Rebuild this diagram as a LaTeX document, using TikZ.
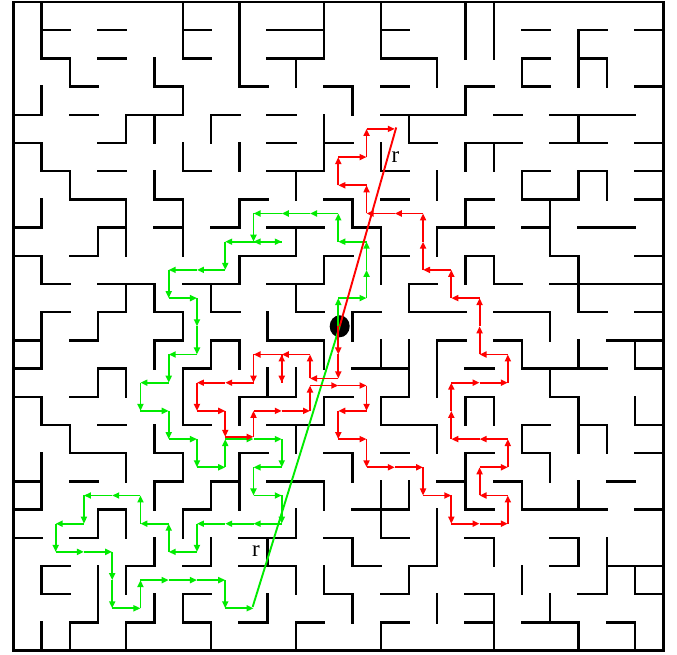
\documentclass[tikz,border=0pt]{standalone}
\usepackage{fontspec}
\setmainfont{Liberation Serif}
\usetikzlibrary{arrows.meta}
\definecolor{pathred}{RGB}{255,0,0}
\definecolor{pathgreen}{RGB}{0,235,0}
\begin{document}
\begin{tikzpicture}[x=28.26pt,y=-28.2pt,
  wall/.style={line width=2.3pt,line cap=rect,black},
  border/.style={line width=2.6pt,black},
  redstep/.style={pathred,line width=1.9pt,-{Triangle[length=7pt,width=6pt]}},
  greenstep/.style={pathgreen,line width=1.9pt,-{Triangle[length=7pt,width=6pt]}},
  redline/.style={pathred,line width=1.9pt},
  greenline/.style={pathgreen,line width=1.9pt},
  rlabel/.style={inner sep=0pt,font=\fontsize{23}{23}\selectfont}]
\useasboundingbox (-0.4706,-0.0709) rectangle (23.486,23.156);
% maze border
\draw[border] (0,0) rectangle (23,23);
% horizontal walls: row/from/to
\foreach \r/\a/\b in {
1/1/2, 1/3/4, 1/6/7, 1/9/11, 1/13/14, 1/18/19, 1/20/21, 1/22/23,
2/1/2, 2/3/4, 2/6/7, 2/9/11, 2/13/15, 2/18/19, 2/20/21,
3/2/3, 3/5/6, 3/8/9, 3/11/12, 3/13/14, 3/16/17, 3/18/19, 3/22/23,
4/0/1, 4/2/3, 4/4/6, 4/7/8, 4/9/10, 4/13/16, 4/17/18, 4/19/22,
5/0/1, 5/3/4, 5/9/10, 5/11/12, 5/14/15, 5/16/18, 5/19/21, 5/22/23,
6/1/2, 6/3/4, 6/6/7, 6/9/11, 6/13/14, 6/18/19, 6/20/21, 6/22/23,
7/2/4, 7/5/6, 7/8/9, 7/11/12, 7/13/14, 7/16/17, 7/18/20, 7/22/23,
8/0/1, 8/3/4, 8/5/6, 8/7/8, 8/9/11, 8/12/13, 8/15/17, 8/18/19, 8/20/22,
9/0/1, 9/2/3, 9/8/10, 9/11/12, 9/13/14, 9/16/17, 9/19/20, 9/22/23,
10/1/2, 10/3/5, 10/6/8, 10/9/11, 10/14/15, 10/17/18, 10/19/23,
11/1/2, 11/3/4, 11/5/6, 11/7/8, 11/10/11, 11/12/13, 11/14/16, 11/17/19, 11/20/21, 11/22/23,
12/0/1, 12/2/3, 12/5/6, 12/7/8, 12/9/11, 12/15/16, 12/17/18, 12/21/23,
13/0/1, 13/3/4, 13/6/7, 13/12/14, 13/16/17, 13/18/21, 13/22/23,
14/0/1, 14/2/3, 14/8/10, 14/11/12, 14/13/14, 14/16/17, 14/19/20,
15/1/2, 15/3/4, 15/6/7, 15/9/11, 15/13/15, 15/18/19, 15/20/21, 15/22/23,
16/2/4, 16/5/6, 16/8/9, 16/11/12, 16/13/14, 16/16/17, 16/18/19, 16/22/23,
17/0/1, 17/2/3, 17/5/6, 17/7/8, 17/9/11, 17/15/16, 17/17/18, 17/21/22,
18/0/1, 18/3/4, 18/6/7, 18/12/14, 18/16/17, 18/18/21, 18/22/23,
19/0/1, 19/2/3, 19/8/10, 19/11/12, 19/13/14, 19/16/17, 19/19/20,
20/1/2, 20/4/5, 20/6/7, 20/8/10, 20/12/13, 20/14/15, 20/19/20, 20/21/23,
21/1/2, 21/6/7, 21/11/12, 21/13/14, 21/16/17, 21/20/21, 21/22/23,
22/2/3, 22/4/5, 22/6/7, 22/8/9, 22/10/11, 22/13/14, 22/16/17, 22/18/20, 22/21/22}
  {\draw[wall] (\a,\r) -- (\b,\r);}
% vertical walls: column/from/to
\foreach \c/\a/\b in {
1/0/2, 1/3/4, 1/5/6, 1/7/8, 1/9/10, 1/11/13, 1/14/15, 1/16/18, 1/20/21, 1/22/23,
2/2/3, 2/6/7, 2/15/16, 2/22/23,
3/8/9, 3/11/12, 3/13/14, 3/18/19, 3/20/22,
4/4/5, 4/7/9, 4/10/11, 4/13/14, 4/16/17, 4/18/19, 4/20/21, 4/22/23,
5/2/3, 5/4/5, 5/6/7, 5/10/11, 5/12/13, 5/15/16, 5/17/18, 5/19/20, 5/21/22,
6/0/2, 6/3/4, 6/5/6, 6/7/9, 6/11/12, 6/13/15, 6/16/17, 6/18/19, 6/21/22,
7/4/5, 7/10/11, 7/12/13, 7/17/18, 7/19/20, 7/22/23,
8/0/3, 8/5/6, 8/7/8, 8/9/10, 8/12/13, 8/14/15, 8/16/18,
9/11/12, 9/13/14, 9/19/20, 9/21/22,
10/2/3, 10/6/7, 10/8/9, 10/10/11, 10/13/14, 10/15/16, 10/18/19, 10/20/21, 10/22/23,
11/0/2, 11/4/6, 11/9/10, 11/12/13, 11/14/15, 11/17/18, 11/20/21,
12/3/4, 12/7/8, 12/11/12, 12/16/17, 12/19/20, 12/21/22,
13/0/2, 13/5/6, 13/8/10, 13/12/13, 13/14/15, 13/17/19, 13/22/23,
14/4/5, 14/10/11, 14/12/14, 14/17/18, 14/20/21,
15/2/3, 15/6/7, 15/8/9, 15/12/14, 15/15/16, 15/18/20, 15/21/22,
16/0/2, 16/3/4, 16/5/6, 16/7/8, 16/9/10, 16/14/15, 16/16/18,
17/0/2, 17/5/6, 17/9/10, 17/14/15, 17/19/20, 17/21/23,
18/2/3, 18/6/7, 18/12/13, 18/15/16, 18/17/18, 18/20/21,
19/7/9, 19/11/12, 19/13/14, 19/16/17, 19/21/22,
20/1/3, 20/4/5, 20/6/7, 20/9/11, 20/12/13, 20/14/16, 20/17/18, 20/19/20, 20/22/23,
21/2/3, 21/6/7, 21/15/16, 21/19/21,
22/12/13, 22/14/15, 22/20/21, 22/22/23}
  {\draw[wall] (\c,\a) -- (\c,\b);}
% start point
\fill[black] (11.55,11.5) ellipse [x radius=10pt, y radius=11pt];
\coordinate (start) at (11.55,11.5);
\coordinate (gend) at (8.47,21.45);
\coordinate (rend) at (13.55,4.45);
% green walk
\foreach \px/\py [remember=\px as \qx (initially 11.5), remember=\py as \qy (initially 11.5)] in {
11.5/10.5, 12.5/10.5, 12.5/9.5, 12.5/8.5, 11.5/8.5, 11.5/7.5, 10.5/7.5, 9.5/7.5, 8.5/7.5,
8.5/8.5, 9.5/8.5, 8.5/8.5, 7.5/8.5, 7.5/9.5, 6.5/9.5, 5.5/9.5, 5.5/10.5, 6.5/10.5,
6.5/11.5, 6.5/12.5, 5.5/12.5, 5.5/13.5, 4.5/13.5, 4.5/14.5, 5.5/14.5, 5.5/15.5,
6.5/15.5, 6.5/16.5, 7.5/16.5, 7.5/15.5, 8.5/15.5, 9.5/15.5, 9.5/16.5, 8.5/16.5,
8.5/17.5, 9.5/17.5, 9.5/18.5, 8.5/18.5, 7.5/18.5, 6.5/18.5, 6.5/19.5, 5.5/19.5,
5.5/18.5, 4.5/18.5, 4.5/17.5, 3.5/17.5, 2.5/17.5, 2.5/18.5, 1.5/18.5, 1.5/19.5,
2.5/19.5, 3.5/19.5, 3.5/20.5, 3.5/21.5, 4.5/21.5, 4.5/20.5, 5.5/20.5, 6.5/20.5,
7.5/20.5, 7.5/21.5, 8.5/21.5}
  {\draw[greenstep] (\qx,\qy) -- (\px,\py);}
\draw[greenline] (start) -- (gend);
% red walk
\foreach \px/\py [remember=\px as \qx (initially 11.5), remember=\py as \qy (initially 11.5)] in {
11.5/12.5, 11.5/13.35, 10.5/13.35, 10.5/12.5, 9.5/12.5, 9.5/13.5, 9.5/12.5, 8.5/12.5,
8.5/13.5, 7.5/13.5, 6.5/13.5, 6.5/14.5, 7.5/14.5, 7.5/15.42, 8.5/15.42, 8.5/14.5,
9.5/14.5, 10.5/14.5, 10.5/13.6, 11.5/13.6, 12.5/13.6, 12.5/14.5, 11.5/14.5, 11.5/15.5,
12.5/15.5, 12.5/16.5, 13.5/16.5, 14.5/16.5, 14.5/17.5, 15.5/17.5, 15.5/18.5, 16.5/18.5,
17.5/18.5, 17.5/17.5, 16.5/17.5, 16.5/16.5, 17.5/16.5, 17.5/15.5, 16.5/15.5, 15.5/15.5,
15.5/14.5, 15.5/13.5, 16.5/13.5, 17.5/13.5, 17.5/12.5, 16.5/12.5, 16.5/11.5, 16.5/10.5,
15.5/10.5, 15.5/9.5, 14.5/9.5, 14.5/8.5, 14.5/7.5, 13.5/7.5, 12.5/7.5, 12.5/6.5,
11.5/6.5, 11.5/5.5, 12.5/5.5, 12.5/4.5, 13.5/4.5}
  {\draw[redstep] (\qx,\qy) -- (\px,\py);}
\draw[redline] (start) -- (rend);
% labels
\node[rlabel] (rred) at (13.52,5.5) {r};
\node[rlabel] (rgreen) at (8.59,19.47) {r};
\end{tikzpicture}
\end{document}
